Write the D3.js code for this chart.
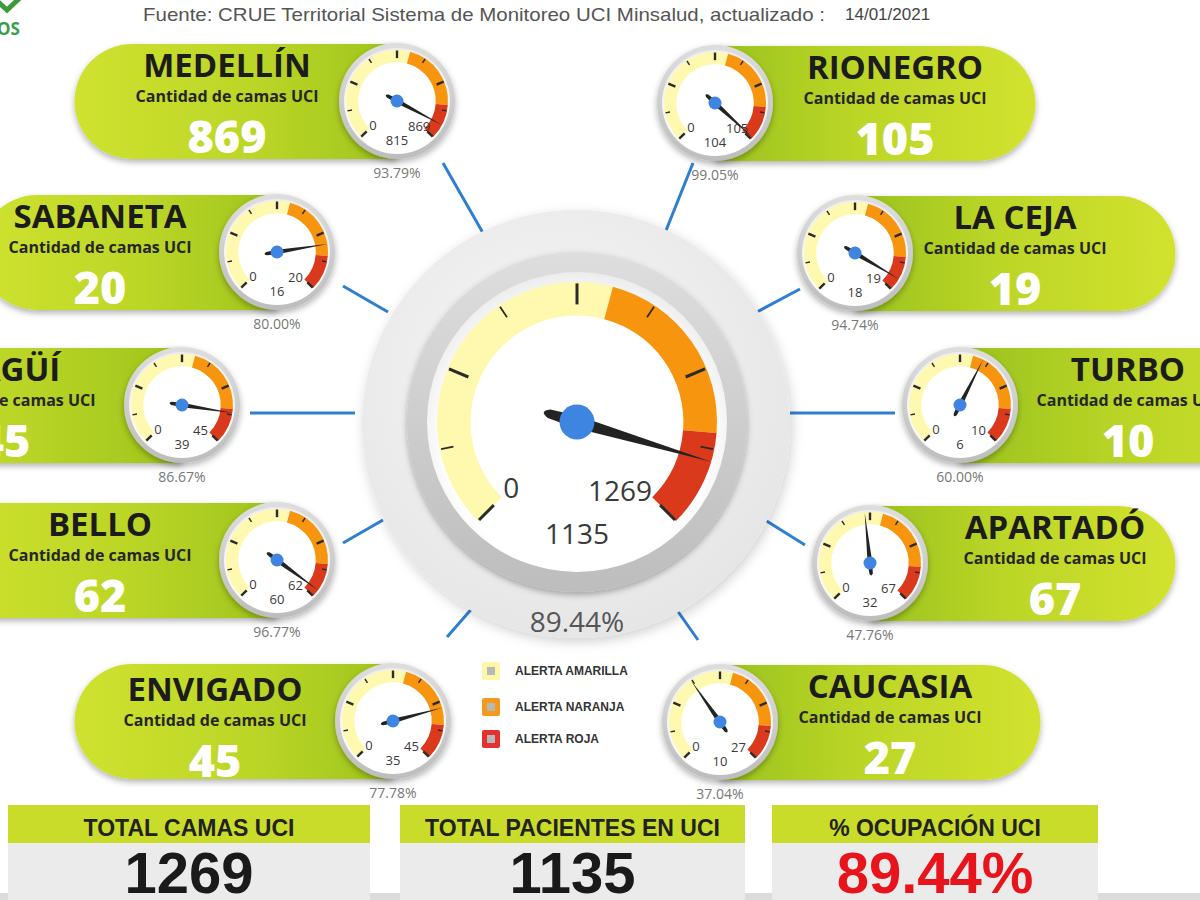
<!DOCTYPE html>
<html><head><meta charset="utf-8">
<script src="https://cdn.jsdelivr.net/npm/d3@7"></script>
<style>body{margin:0;background:#fff;overflow:hidden} svg{display:block}</style>
</head><body>
<svg id="c" width="1200" height="900"></svg>
<script>
// ---------- DATA ----------
const cities    = ["MEDELLÍN","RIONEGRO","SABANETA","LA CEJA","ITAGÜÍ","TURBO","BELLO","APARTADÓ","ENVIGADO","CAUCASIA"];
const camas     = [869, 105, 20, 19, 45, 10, 62, 67, 45, 27];
const pacientes = [815, 104, 16, 18, 39, 6, 60, 32, 35, 10];
const ocupacion = ["93.79%","99.05%","80.00%","94.74%","86.67%","60.00%","96.77%","47.76%","77.78%","37.04%"];
const subtitle  = "Cantidad de camas UCI";
const totalCamas = 1269, totalPacientes = 1135, totalOcupacion = "89.44%";
const alertBreaks = [0, 0.555, 0.85, 1];
const alertColors = ["#fff9b0", "#f7950f", "#da3a1b"];
const legendLabels = ["ALERTA AMARILLA","ALERTA NARANJA","ALERTA ROJA"];
const legendColors = ["#fdf7a6","#f39a1c","#e2312e"];
const totalsLabels = ["TOTAL CAMAS UCI","TOTAL PACIENTES EN UCI","%  OCUPACIÓN UCI"];
const totalsValues = [String(totalCamas), String(totalPacientes), totalOcupacion];
const fuente = "Fuente: CRUE Territorial Sistema de Monitoreo UCI Minsalud, actualizado :";
const fecha = "14/01/2021";

// ---------- LAYOUT ----------
const cardLayout = [
 {gx:397, gy:101, side:"L", ext:75,   tx:227, dy:0},
 {gx:715, gy:103, side:"R", ext:1035, tx:895, dy:0},
 {gx:277, gy:252, side:"L", ext:-20,  tx:100, dy:0},
 {gx:855, gy:253, side:"R", ext:1175, tx:1015,dy:0},
 {gx:182, gy:405, side:"L", ext:-200, tx:4,   dy:0},
 {gx:960, gy:405, side:"R", ext:1350, tx:1128,dy:0},
 {gx:277, gy:560, side:"L", ext:-60,  tx:100, dy:0},
 {gx:870, gy:563, side:"R", ext:1175, tx:1055,dy:0},
 {gx:393, gy:721, side:"L", ext:75,   tx:215, dy:4},
 {gx:720, gy:722, side:"R", ext:1040, tx:890, dy:0}
];
const connectors = [[443,163,483,233],[693,163,665,233],[343,286,388,312],[800,289,755,313],
  [250,413,355,413],[790,413,895,413],[343,543,383,520],[765,520,805,545],[447,637,475,605],[672,603,698,640]];
const center = {x:577, y:422};
const totalsBoxes = [{x:8,w:362},{x:400,w:345},{x:772,w:326}];
const totalsColors = ["#1a1a1a","#1a1a1a","#e8141b"];

const svg = d3.select("#c");
const defs = svg.append("defs");
const f1 = defs.append("filter").attr("id","sh").attr("x","-20%").attr("y","-20%").attr("width","140%").attr("height","150%");
f1.append("feDropShadow").attr("dx",0).attr("dy",3).attr("stdDeviation",3).attr("flood-color","#000").attr("flood-opacity",0.3);
const f2 = defs.append("filter").attr("id","sh2").attr("x","-20%").attr("y","-20%").attr("width","140%").attr("height","140%");
f2.append("feDropShadow").attr("dx",2).attr("dy",4).attr("stdDeviation",6).attr("flood-color","#000").attr("flood-opacity",0.18);

function lin(id, stops, x2, y2){
  const g = defs.append("linearGradient").attr("id",id).attr("x1",0).attr("y1",0).attr("x2",x2).attr("y2",y2);
  stops.forEach(s=>g.append("stop").attr("offset",s[0]).attr("stop-color",s[1]));
}
lin("gradL", [[0,"#cfe22f"],[0.55,"#bcd627"],[1,"#9ec51c"]], 1, 0);
lin("gradR", [[0,"#9ac31d"],[0.45,"#bcd627"],[1,"#d2e22e"]], 1, 0);
lin("ring", [[0,"#dedede"],[1,"#bdbdbd"]], 0, 1);
const rg = defs.append("radialGradient").attr("id","disc").attr("cx","45%").attr("cy","40%").attr("r","60%");
rg.append("stop").attr("offset",0).attr("stop-color","#f8f8f8");
rg.append("stop").attr("offset",1).attr("stop-color","#e6e6e6");
const fg = defs.append("radialGradient").attr("id","face").attr("cx","50%").attr("cy","55%").attr("r","55%");
fg.append("stop").attr("offset",0.8).attr("stop-color","#ffffff");
fg.append("stop").attr("offset",1).attr("stop-color","#ececec");

// ---------- HEADER ----------
svg.append("path").attr("d","M-4,0 L7,10 L24,-6").attr("fill","none").attr("stroke","#3c9c3c").attr("stroke-width",5);
svg.append("text").attr("x",-3).attr("y",35).text("OS")
  .attr("font-family","Open Sans, sans-serif").attr("font-weight",700).attr("font-size",17).attr("fill","#35a04a");
svg.append("text").attr("x",143).attr("y",21).text(fuente)
  .attr("font-family","Liberation Sans Narrow, Arial Narrow, sans-serif").attr("font-size",19).attr("fill","#555")
  .attr("textLength",682).attr("lengthAdjust","spacingAndGlyphs");
svg.append("text").attr("x",845).attr("y",20).text(fecha)
  .attr("font-family","Liberation Sans Narrow, Arial Narrow, sans-serif").attr("font-size",17).attr("fill","#444");

// ---------- CONNECTORS ----------
svg.append("g").selectAll("line").data(connectors).join("line")
  .attr("x1",d=>d[0]).attr("y1",d=>d[1]).attr("x2",d=>d[2]).attr("y2",d=>d[3])
  .attr("stroke","#2e7fd2").attr("stroke-width",3);

// ---------- GAUGE FUNCTION ----------
function gauge(g, value, max, o){
  const R = o.R;
  const ang = d3.scaleLinear().domain([0,max]).range([-135,135]);
  const rad = v => ang(v)*Math.PI/180;
  g.append("circle").attr("r",o.ringOuter).attr("fill","url(#ring)").attr("filter",o.shadow||null);
  g.append("circle").attr("r",o.ringInner).attr("fill","url(#face)");
  const arc = d3.arc().innerRadius(R*0.76).outerRadius(R);
  g.selectAll("path.band").data(alertColors).join("path").attr("class","band")
    .attr("d",(c,i)=>arc({startAngle:rad(alertBreaks[i]*max), endAngle:rad(alertBreaks[i+1]*max)}))
    .attr("fill",c=>c);
  const ticks = d3.range(9).map(j=>j/8*max);
  g.selectAll("line.tk").data(ticks).join("line").attr("class","tk")
    .attr("transform",d=>`rotate(${ang(d)})`)
    .attr("x1",0).attr("x2",0)
    .attr("y1",(d,j)=>-(j%2===0?R*0.84:R*0.9)).attr("y2",-R*0.99)
    .attr("stroke","#2b2b2b").attr("stroke-width",(d,j)=>j%2===0?o.tw:o.tw*0.6);
  g.append("text").attr("x",-R*0.47).attr("y",R*0.47+o.fs*0.36).attr("text-anchor","middle").text("0")
    .attr("font-family","Open Sans, sans-serif").attr("font-size",o.fs).attr("fill","#3a3a3a");
  g.append("text").attr("x",o.maxX).attr("y",R*0.49+o.fs*0.36).attr("text-anchor",o.maxAnchor).text(max)
    .attr("font-family","Open Sans, sans-serif").attr("font-size",o.fs).attr("fill","#3a3a3a");
  g.append("text").attr("x",0).attr("y",o.valY).attr("text-anchor","middle").text(value)
    .attr("font-family","Open Sans, sans-serif").attr("font-size",o.fs).attr("fill","#3a3a3a");
  const L = R*1.0, T = R*0.26, w = Math.max(R*0.045,2.4);
  g.append("path").attr("transform",`rotate(${ang(value)})`)
    .attr("d",`M${-w},0 L0,${-L} L${w},0 L${w*0.7},${T*0.8} Q0,${T*1.1} ${-w*0.7},${T*0.8} Z`)
    .attr("fill","#232323");
  g.append("circle").attr("r",Math.max(R*0.125,6.5)).attr("fill","#3d85e0");
}

// ---------- CENTRAL GAUGE ----------
svg.append("circle").attr("cx",center.x-1).attr("cy",center.y+2).attr("r",214).attr("fill","url(#disc)").attr("filter","url(#sh2)");
const cg = svg.append("g").attr("transform",`translate(${center.x},${center.y})`);
gauge(cg, totalPacientes, totalCamas, {R:140, ringOuter:170, ringInner:150, fs:28, tw:3, maxX:43, maxAnchor:"middle", valY:122, shadow:"url(#sh)"});
svg.append("text").attr("x",center.x).attr("y",center.y+210).attr("text-anchor","middle").text(totalOcupacion)
  .attr("font-family","Open Sans, sans-serif").attr("font-size",28).attr("fill","#555");

// ---------- CARDS ----------
cities.forEach((name,i)=>{
  const c = cardLayout[i];
  const top = c.gy-57, bot = c.gy+58, r = 57;
  let d;
  if (c.side==="L") d = `M${c.gx},${top} L${c.ext+r},${top} A${r},${r} 0 0 0 ${c.ext+r},${bot} L${c.gx},${bot} Z`;
  else d = `M${c.gx},${top} L${c.ext-r},${top} A${r},${r} 0 0 1 ${c.ext-r},${bot} L${c.gx},${bot} Z`;
  svg.append("path").attr("d",d).attr("fill",c.side==="L"?"url(#gradL)":"url(#gradR)").attr("filter","url(#sh)");
  const ty = c.gy + c.dy;
  svg.append("text").attr("x",c.tx).attr("y",ty-24).attr("text-anchor","middle").text(name)
    .attr("font-family","Open Sans, sans-serif").attr("font-weight",700).attr("font-size",33).attr("fill","#1c1c1c");
  svg.append("text").attr("x",c.tx).attr("y",ty+1).attr("text-anchor","middle").text(subtitle)
    .attr("font-family","Open Sans, sans-serif").attr("font-weight",700).attr("font-size",16).attr("fill","#262626");
  svg.append("text").attr("x",c.tx).attr("y",ty+52).attr("text-anchor","middle").text(camas[i])
    .attr("font-family","Open Sans, sans-serif").attr("font-weight",800).attr("font-size",45).attr("fill","#ffffff");
  const g = svg.append("g").attr("transform",`translate(${c.gx},${c.gy})`);
  gauge(g, pacientes[i], camas[i], {R:51, ringOuter:58, ringInner:53, fs:13, tw:2.4, maxX:11, maxAnchor:"start", valY:44, shadow:"url(#sh)"});
  svg.append("text").attr("x",c.gx).attr("y",c.gy+77).attr("text-anchor","middle").text(ocupacion[i])
    .attr("font-family","Open Sans, sans-serif").attr("font-size",14).attr("fill","#777");
});

// ---------- LEGEND ----------
const lg = svg.append("g");
legendLabels.forEach((t,i)=>{
  const y = [671,707,739][i];
  lg.append("rect").attr("x",482).attr("y",y-9).attr("width",18).attr("height",18).attr("rx",2).attr("fill",legendColors[i]);
  lg.append("rect").attr("x",487).attr("y",y-4).attr("width",8).attr("height",8).attr("fill","#b8b8b8");
  lg.append("text").attr("x",515).attr("y",y+4).text(t)
    .attr("font-family","Liberation Sans, Arial, sans-serif").attr("font-weight",700).attr("font-size",12).attr("fill","#333");
});

// ---------- TOTALS ----------
svg.append("rect").attr("x",0).attr("y",893).attr("width",1200).attr("height",7).attr("fill","#dcdcdc");
totalsBoxes.forEach((b,i)=>{
  svg.append("rect").attr("x",b.x).attr("y",843).attr("width",b.w).attr("height",57).attr("fill","#ebebeb");
  svg.append("rect").attr("x",b.x).attr("y",805).attr("width",b.w).attr("height",38).attr("fill","#c9dc2a");
  svg.append("text").attr("x",b.x+b.w/2).attr("y",836).attr("text-anchor","middle").text(totalsLabels[i])
    .attr("font-family","Liberation Sans Narrow, Arial Narrow, sans-serif").attr("font-weight",700).attr("font-size",23).attr("fill","#222");
  svg.append("text").attr("x",b.x+b.w/2).attr("y",893).attr("text-anchor","middle").text(totalsValues[i])
    .attr("font-family","Liberation Sans, Arial, sans-serif").attr("font-weight",700).attr("font-size",58).attr("fill",totalsColors[i]);
});
</script>
</body></html>
